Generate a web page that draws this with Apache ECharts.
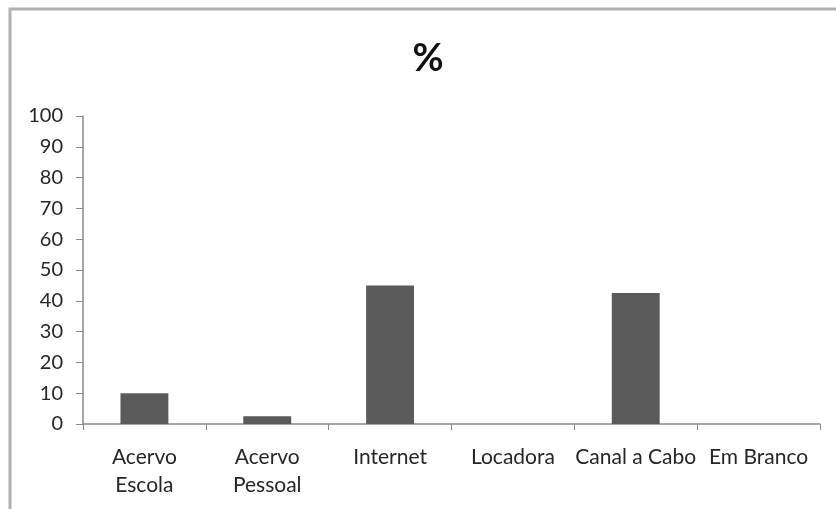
<!DOCTYPE html>
<html>
<head>
<meta charset="utf-8">
<script src="https://cdn.jsdelivr.net/npm/echarts@6/dist/echarts.min.js"></script>
<style>
  html, body { margin: 0; padding: 0; background: #ffffff; }
  #chart { width: 836px; height: 509px; }
</style>
</head>
<body>
<div id="chart"></div>
<script>
// Fonte de acesso aos filmes (%)
const categorias = ['Acervo\nEscola', 'Acervo\nPessoal', 'Internet', 'Locadora', 'Canal a Cabo', 'Em Branco'];
const percentuais = [10, 2.5, 45, 0, 42.5, 0];
const escalaY = { min: 0, max: 100, passo: 10 };

const FONTE = 'Lato, "Liberation Sans", sans-serif';
const CINZA_EIXO = '#8a8a8a';
const COR_TEXTO = '#262626';

const chart = echarts.init(document.getElementById('chart'), null, { renderer: 'canvas' });

chart.setOption({
  animation: false,
  backgroundColor: '#ffffff',
  graphic: [{
    type: 'rect',
    shape: { x: 10, y: 9, width: 900, height: 600 },
    style: { fill: 'none', stroke: '#b0b0b0', lineWidth: 3 },
    silent: true
  }, {
    type: 'text',
    x: 428,
    y: 59,
    style: {
      text: '%',
      align: 'center',
      verticalAlign: 'middle',
      fontFamily: FONTE,
      fontSize: 38,
      fontWeight: 'bold',
      fill: '#111111'
    },
    silent: true
  }],
  grid: { left: 83, right: 16, top: 116, bottom: 85, containLabel: false },
  xAxis: {
    type: 'category',
    data: categorias,
    axisLine: { show: true, lineStyle: { color: CINZA_EIXO, width: 1.5 } },
    axisTick: { show: true, length: 6, alignWithLabel: false, lineStyle: { color: CINZA_EIXO } },
    axisLabel: {
      interval: 0,
      margin: 19,
      fontFamily: FONTE,
      fontSize: 21,
      lineHeight: 28,
      color: COR_TEXTO
    },
    splitLine: { show: false }
  },
  yAxis: {
    type: 'value',
    min: escalaY.min,
    max: escalaY.max,
    interval: escalaY.passo,
    axisLine: { show: true, lineStyle: { color: CINZA_EIXO, width: 1.5 } },
    axisTick: { show: true, length: 7, lineStyle: { color: CINZA_EIXO } },
    axisLabel: {
      margin: 20,
      fontFamily: FONTE,
      fontSize: 20,
      padding: [5, 0, 0, 0],
      color: COR_TEXTO
    },
    splitLine: { show: false }
  },
  series: [{
    type: 'bar',
    data: percentuais,
    barWidth: '39%',
    itemStyle: { color: '#5a5a5a' }
  }]
});
</script>
</body>
</html>
